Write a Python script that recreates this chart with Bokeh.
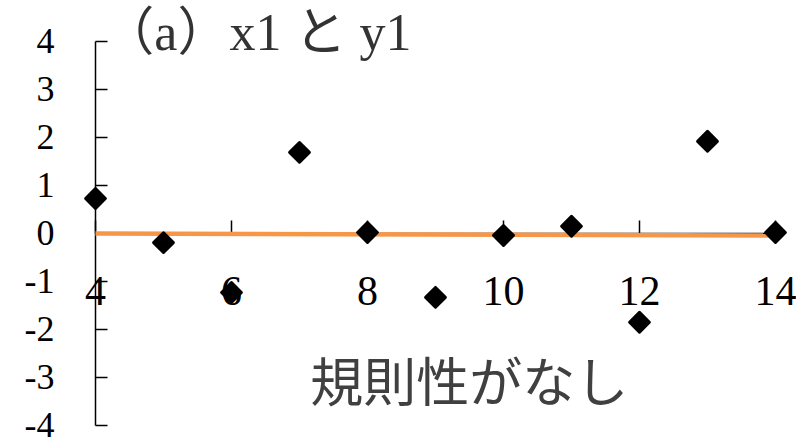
from bokeh.plotting import figure
from bokeh.models import Range1d, Label, FixedTicker
from bokeh.embed import file_html
from bokeh.resources import INLINE
import math

# data
xs = [4, 5, 6, 7, 8, 9, 10, 11, 12, 13, 14]
ys = [0.73, -0.19, -1.23, 1.69, 0.02, -1.33, -0.04, 0.15, -1.85, 1.92, 0.02]
trend_x = [4, 14]
trend_y = [0.0, -0.04]
x_ticks = [4, 6, 8, 10, 12, 14]
y_ticks = [-4, -3, -2, -1, 0, 1, 2, 3, 4]
title_text = "（a）x1 と y1"
note_text = "規則性がなし"

p = figure(frame_width=796, frame_height=440,
           x_range=Range1d(2.603, 14.309), y_range=Range1d(-4.3125, 4.854),
           output_backend="svg", toolbar_location=None,
           min_border_left=0, min_border_right=0, min_border_top=0, min_border_bottom=0)
p.outline_line_color = None
p.grid.visible = False
p.background_fill_color = "white"
p.border_fill_color = "white"

serif = "Liberation Serif, Noto Sans CJK JP"

xa = p.xaxis[0]
xa.fixed_location = 0
xa.bounds = (4, 14)
xa.ticker = FixedTicker(ticks=x_ticks)
xa.major_label_overrides = {t: str(t) for t in x_ticks}
xa.major_tick_in = 13
xa.major_tick_out = 0
xa.minor_tick_line_color = None
xa.axis_line_color = "black"
xa.axis_line_width = 1.5
xa.major_tick_line_width = 1.5
xa.major_label_text_font = serif
xa.major_label_text_font_size = "42px"
xa.major_label_text_color = "black"
xa.major_label_standoff = 44

ya = p.yaxis[0]
ya.fixed_location = 4
ya.bounds = (-4, 4)
ya.ticker = FixedTicker(ticks=y_ticks)
ya.major_label_overrides = {t: str(t) for t in y_ticks}
ya.major_tick_in = 12
ya.major_tick_out = 0
ya.minor_tick_line_color = None
ya.axis_line_color = "black"
ya.axis_line_width = 1.5
ya.major_tick_line_width = 1.5
ya.major_label_text_font = serif
ya.major_label_text_font_size = "36px"
ya.major_label_text_color = "black"
ya.major_label_standoff = 41

p.line(trend_x, trend_y, line_color="#F79646", line_width=4.5, level="overlay")
p.scatter(xs, ys, marker="square", size=14, angle=math.pi / 4,
          fill_color="black", line_color="black", line_width=3, line_join="round",
          level="overlay")

p.add_layout(Label(x=4.10, y=4.19, text=title_text, text_font=serif,
                   text_font_size="52px", text_color="#333333",
                   text_baseline="alphabetic", text_align="left"))
p.add_layout(Label(x=7.16, y=-3.03, text=note_text, text_font="Noto Sans CJK JP",
                   text_font_size="53px", text_color="#404040",
                   text_baseline="middle", text_align="left"))

open("out.html", "w").write(file_html(p, INLINE))
